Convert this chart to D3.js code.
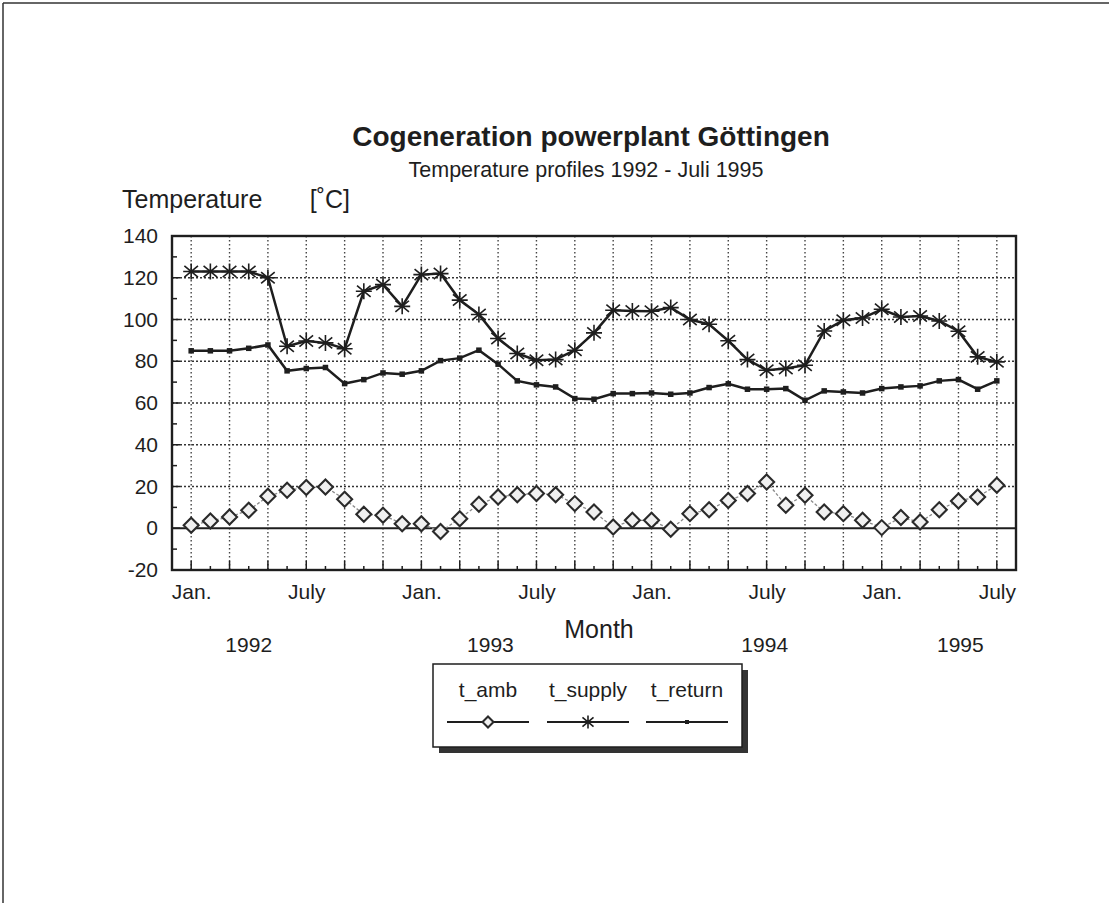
<!DOCTYPE html>
<html>
<head>
<meta charset="utf-8">
<script src="https://cdn.jsdelivr.net/npm/d3@7"></script>
<style>
  html, body { margin: 0; padding: 0; background: #fff; }
  svg { display: block; font-family: "Liberation Sans", Arial, sans-serif; }
</style>
</head>
<body>
<svg id="chart" width="1109" height="903"></svg>
<script>
// Monthly mean temperatures, Jan. 1992 – July 1995
const months = [
  "1992-01","1992-02","1992-03","1992-04","1992-05","1992-06","1992-07","1992-08","1992-09","1992-10","1992-11","1992-12",
  "1993-01","1993-02","1993-03","1993-04","1993-05","1993-06","1993-07","1993-08","1993-09","1993-10","1993-11","1993-12",
  "1994-01","1994-02","1994-03","1994-04","1994-05","1994-06","1994-07","1994-08","1994-09","1994-10","1994-11","1994-12",
  "1995-01","1995-02","1995-03","1995-04","1995-05","1995-06","1995-07"
];
const tAmb = [1.4,3.5,5.4,8.6,15.3,18.2,19.5,19.8,13.9,6.7,6.2,2.2,2.2,-1.6,4.6,
  11.5,15,16.1,16.6,16.1,11.8,7.8,0.6,3.8,3.8,-0.5,7,8.9,13.3,
  16.6,22.2,11,15.8,7.8,7,3.8,0.3,5.1,3,8.9,13.1,15,20.6];
const tSupply = [123,123,123,123,120,87.2,89.7,88.8,86,113.5,116.7,106.3,121.5,122,109.3,
  102.4,90.9,83.7,80.5,80.8,85.3,93.6,104.4,104.1,104,105.7,100,97.7,89.8,
  80.8,75.7,76.5,78.1,94.5,99.6,100.7,104.9,101.2,101.7,99.3,94.4,82.1,79.7];
const tReturn = [85,85,85,86.2,87.8,75.4,76.5,77,69.3,71.2,74.4,73.8,75.4,80.3,81.5,
  85.3,78.6,70.6,68.7,67.7,62.1,61.8,64.5,64.5,64.8,64.2,64.8,67.4,69.2,
  66.6,66.6,66.9,61.3,65.8,65.3,64.8,66.9,67.7,68.2,70.6,71.2,66.6,70.6];

const yTicks = [-20,0,20,40,60,80,100,120,140];
const xTickLabels = ["Jan.","July","Jan.","July","Jan.","July","Jan.","July"];
const xTickMonths = [0,6,12,18,24,30,36,42];
const yearLabels = ["1992","1993","1994","1995"];
const yearMonths = [3,15.6,29.9,40.1];
const seriesNames = ["t_amb","t_supply","t_return"];

const svg = d3.select("#chart");
const ink = "#1e1e1e";

// ---------- page frame ----------
svg.append("line").attr("x1", 3).attr("x2", 1109).attr("y1", 3).attr("y2", 3)
  .attr("stroke", "#333").attr("stroke-width", 1.5);
svg.append("line").attr("x1", 3).attr("x2", 3).attr("y1", 3).attr("y2", 903)
  .attr("stroke", "#333").attr("stroke-width", 1.5);

// ---------- scales ----------
const plotL = 172, plotR = 1016, plotT = 236, plotB = 570;
const x = d3.scaleLinear().domain([-1, 43]).range([plotL, plotR]);
const y = d3.scaleLinear().domain([-20, 140]).range([plotB, plotT]);
const idx = d => months.indexOf(d);

// ---------- titles ----------
svg.append("text").attr("x", 591).attr("y", 146).attr("text-anchor", "middle")
  .attr("font-size", 28).attr("font-weight", "bold").attr("fill", ink)
  .text("Cogeneration powerplant Göttingen");
svg.append("text").attr("x", 586).attr("y", 177).attr("text-anchor", "middle")
  .attr("font-size", 21.5).attr("fill", ink)
  .text("Temperature profiles 1992 - Juli 1995");
svg.append("text").attr("x", 122).attr("y", 208)
  .attr("font-size", 25).attr("fill", ink).text("Temperature");
svg.append("text").attr("x", 350).attr("y", 208).attr("text-anchor", "end")
  .attr("font-size", 25).attr("fill", ink).text("[˚C]");

// ---------- grid ----------
const grid = svg.append("g");
grid.append("g").selectAll("line").data(yTicks.filter(v => v > -20 && v < 140 && v !== 0)).join("line")
  .attr("x1", plotL).attr("x2", plotR).attr("y1", d => y(d)).attr("y2", d => y(d))
  .attr("stroke", "#333").attr("stroke-width", 1.6).attr("stroke-dasharray", "2,2");
grid.append("g").selectAll("line").data(months.filter((m, i) => i % 2 === 0)).join("line")
  .attr("x1", d => x(idx(d))).attr("x2", d => x(idx(d))).attr("y1", plotT).attr("y2", plotB)
  .attr("stroke", "#444").attr("stroke-width", 1.4).attr("stroke-dasharray", "1.5,2.5");
svg.append("line").attr("x1", plotL).attr("x2", plotR).attr("y1", y(0)).attr("y2", y(0))
  .attr("stroke", ink).attr("stroke-width", 2);

// ---------- axes ----------
const yAxis = d3.axisLeft(y).tickValues(yTicks).tickFormat(d => String(d)).tickSize(0).tickPadding(14);
const gy = svg.append("g").attr("transform", `translate(${plotL},0)`).call(yAxis);
gy.select(".domain").remove();
gy.selectAll("text").attr("font-size", 21).attr("fill", ink).attr("font-family", "Liberation Sans, Arial, sans-serif");
// inward ticks: 20s long, 10s short
svg.append("g").selectAll("line").data(d3.range(-10, 140, 10)).join("line")
  .attr("x1", plotL).attr("x2", d => plotL + (d % 20 === 0 ? 8 : 5))
  .attr("y1", d => y(d)).attr("y2", d => y(d)).attr("stroke", ink).attr("stroke-width", 1.5);

const xAxis = d3.axisBottom(x).tickValues(xTickMonths).tickFormat((d, i) => xTickLabels[i])
  .tickSize(0).tickPadding(14);
const gx = svg.append("g").attr("transform", `translate(0,${plotB})`).call(xAxis);
gx.select(".domain").remove();
gx.selectAll("text").attr("font-size", 21).attr("fill", ink).attr("font-family", "Liberation Sans, Arial, sans-serif");
svg.append("g").selectAll("line").data(months).join("line")
  .attr("x1", d => x(idx(d))).attr("x2", d => x(idx(d)))
  .attr("y1", plotB).attr("y2", (d, i) => plotB - (i % 2 === 0 ? 9 : 4))
  .attr("stroke", ink).attr("stroke-width", 1.5);

svg.append("g").selectAll("text").data(yearLabels).join("text")
  .attr("x", (d, i) => x(yearMonths[i])).attr("y", 652).attr("text-anchor", "middle")
  .attr("font-size", 21).attr("fill", ink).text(d => d);
svg.append("text").attr("x", 599).attr("y", 638).attr("text-anchor", "middle")
  .attr("font-size", 25).attr("fill", ink).text("Month");

// plot frame
svg.append("rect").attr("x", plotL).attr("y", plotT).attr("width", plotR - plotL).attr("height", plotB - plotT)
  .attr("fill", "none").attr("stroke", ink).attr("stroke-width", 2.4);

// ---------- marker painters ----------
function diamond(g, r) {
  g.append("path").attr("d", `M0,${-r}L${r},0L0,${r}L${-r},0Z`)
    .attr("fill", "#f0f0f0").attr("stroke", "#2a2a2a").attr("stroke-width", 2.1);
}
function star(g, r) {
  g.append("path")
    .attr("d", `M0,${-r}V${r}M${-r * 0.85},${-r * 0.7}L${r * 0.85},${r * 0.7}M${-r * 0.85},${r * 0.7}L${r * 0.85},${-r * 0.7}M${-r},0H${r}`)
    .attr("stroke", ink).attr("stroke-width", 1.6).attr("fill", "none");
}
function dot(g, s) {
  g.append("rect").attr("x", -s / 2).attr("y", -s / 2).attr("width", s).attr("height", s).attr("fill", ink);
}

// ---------- series ----------
const line = d3.line().x((d, i) => x(i)).y(d => y(d));

svg.append("path").datum(tAmb).attr("d", line).attr("fill", "none")
  .attr("stroke", "#8a8a8a").attr("stroke-width", 1.3).attr("stroke-dasharray", "3,2");
svg.append("path").datum(tReturn).attr("d", line).attr("fill", "none")
  .attr("stroke", ink).attr("stroke-width", 2.5);
svg.append("path").datum(tSupply).attr("d", line).attr("fill", "none")
  .attr("stroke", ink).attr("stroke-width", 2.5);

svg.append("g").selectAll("g").data(tAmb).join("g")
  .attr("transform", (d, i) => `translate(${x(i)},${y(d)})`).each(function () { diamond(d3.select(this), 7.5); });
svg.append("g").selectAll("g").data(tReturn).join("g")
  .attr("transform", (d, i) => `translate(${x(i)},${y(d)})`).each(function () { dot(d3.select(this), 5.5); });
svg.append("g").selectAll("g").data(tSupply).join("g")
  .attr("transform", (d, i) => `translate(${x(i)},${y(d)})`).each(function () { star(d3.select(this), 8); });

// ---------- legend ----------
const lg = svg.append("g");
lg.append("rect").attr("x", 439).attr("y", 670).attr("width", 309).attr("height", 83).attr("fill", "#333");
lg.append("rect").attr("x", 433).attr("y", 664).attr("width", 309).attr("height", 83)
  .attr("fill", "#fff").attr("stroke", ink).attr("stroke-width", 1.5);
const legendX = [488, 588, 687];
const painters = [g => diamond(g, 5.5), g => star(g, 6.5), g => dot(g, 4)];
seriesNames.forEach((name, i) => {
  lg.append("text").attr("x", legendX[i]).attr("y", 697).attr("text-anchor", "middle")
    .attr("font-size", 21).attr("fill", ink).text(name);
  lg.append("line").attr("x1", legendX[i] - 41).attr("x2", legendX[i] + 41)
    .attr("y1", 722).attr("y2", 722).attr("stroke", ink).attr("stroke-width", 1.8);
  painters[i](lg.append("g").attr("transform", `translate(${legendX[i]},722)`));
});
</script>
</body>
</html>
